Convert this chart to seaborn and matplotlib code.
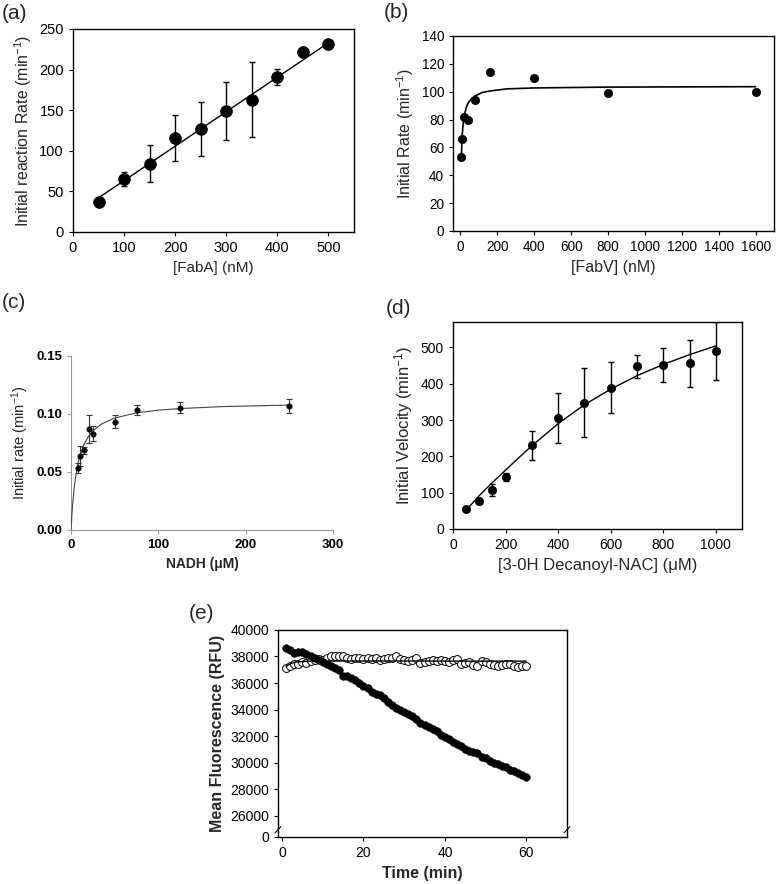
import matplotlib
matplotlib.use("Agg")
import matplotlib.pyplot as plt
import seaborn as sns

# (a) rate vs FabA
faba_nm = [50, 100, 150, 200, 250, 300, 350, 400, 450, 500]
faba_rate = [37, 65, 84, 116, 127, 149, 163, 191, 222, 231]
faba_err = [5, 8.5, 22.5, 28.5, 33.5, 35.5, 46.5, 10, 6, 6]
faba_fit_x = [50, 500]
faba_fit_y = [42, 233]

# (b) rate vs FabV
fabv_nm = [5, 10, 20, 40, 80, 160, 400, 800, 1600]
fabv_rate = [53, 66, 82, 80, 94, 114, 110, 99, 100]
fabv_fit_x = [5, 7, 10, 14, 20, 30, 40, 60, 80, 120, 160, 250, 400, 800, 1600]
fabv_fit_y = [50, 60, 69, 76, 82, 88, 91.5, 95, 97, 99.5, 100.5, 102, 102.7, 103.3, 103.6]

# (c) rate vs NADH
nadh_um = [7.5, 10, 15, 20, 25, 50, 75, 125, 250]
nadh_rate = [0.0535, 0.064, 0.0687, 0.0872, 0.083, 0.0932, 0.1034, 0.1055, 0.1066]
nadh_err = [0.0046, 0.0086, 0.003, 0.012, 0.0065, 0.0055, 0.0043, 0.005, 0.006]
nadh_fit_x = [0, 1, 2, 3.5, 5, 8, 10, 15, 20, 25, 35, 50, 75, 100, 125, 175, 250]
nadh_fit_y = [0, 0.0130, 0.0234, 0.0353, 0.0444, 0.0573, 0.0634, 0.074, 0.0807, 0.0854,
              0.0914, 0.0965, 0.101, 0.1033, 0.1047, 0.1064, 0.1077]

# (d) velocity vs 3-OH decanoyl-NAC
nac_um = [50, 100, 150, 200, 300, 400, 500, 600, 700, 800, 900, 1000]
nac_vel = [54, 76, 107, 143, 230, 305, 348, 389, 448, 452, 456, 489]
nac_err = [4, 7, 16, 12, 41, 69, 95, 70, 31, 47, 65, 80]
nac_fit_x = [50, 100, 150, 200, 250, 300, 400, 500, 600, 700, 800, 900, 1000]
nac_fit_y = [52, 92, 128, 162, 196, 229, 290, 342, 385, 422, 453, 480, 504]

# (e) fluorescence time course
time_min = list(range(1, 61))
fluor_filled = [38650, 38500, 38250, 38300, 38300, 38150, 38050, 37850, 37700, 37550,
                37400, 37250, 37100, 37000, 36550, 36500, 36400, 36200, 36000, 35800,
                35600, 35350, 35200, 35100, 34900, 34600, 34350, 34150, 34000, 33850,
                33700, 33500, 33300, 33000, 32800, 32650, 32550, 32400, 32100, 31950,
                31800, 31550, 31400, 31250, 31050, 30850, 30800, 30750, 30450, 30350,
                30150, 30000, 29900, 29750, 29700, 29450, 29350, 29200, 29050, 28950]
fluor_open = [37150, 37300, 37450, 37400, 37550, 37500, 37650, 37700, 37800, 37750,
              37850, 38000, 38050, 38050, 38000, 37850, 37800, 37900, 37850, 37800,
              37900, 37800, 37900, 37750, 37800, 37850, 37900, 38000, 37800, 37700,
              37650, 37700, 37900, 37500, 37600, 37650, 37700, 37650, 37700, 37650,
              37600, 37700, 37800, 37400, 37500, 37600, 37350, 37300, 37650, 37550,
              37450, 37350, 37300, 37350, 37400, 37450, 37300, 37200, 37300, 37250]
open_fit_x = [1, 2, 3, 4, 5, 8, 15, 30, 45, 60]
open_fit_y = [37250, 37450, 37550, 37600, 37620, 37650, 37660, 37660, 37650, 37650]
e_yticks = [24400, 26000, 28000, 30000, 32000, 34000, 36000, 38000, 40000]
e_yticklabels = ["0", "26000", "28000", "30000", "32000", "34000", "36000", "38000", "40000"]

sns.set_style("ticks")
plt.rcParams["font.family"] = ["Liberation Sans", "DejaVu Sans"]
plt.rcParams["mathtext.fontset"] = "custom"
plt.rcParams["mathtext.rm"] = "Liberation Sans"
plt.rcParams["mathtext.it"] = "Liberation Sans:italic"
plt.rcParams["mathtext.bf"] = "Liberation Sans:bold"

fig = plt.figure(figsize=(7.78, 8.84), dpi=100)


def box_axes(ax, tick_size=10):
    for s in ax.spines.values():
        s.set_color("black")
        s.set_linewidth(1.0)
    ax.tick_params(direction="out", length=3, width=0.8, colors="black",
                   labelsize=tick_size, top=False, right=False)


# ---- (a)
ax = fig.add_axes([0.0938, 0.7376, 0.3612, 0.2296])
ax.errorbar(faba_nm, faba_rate, yerr=faba_err, fmt="none", ecolor="black",
            elinewidth=1, capsize=2.3, capthick=1, zorder=2)
sns.lineplot(x=faba_fit_x, y=faba_fit_y, ax=ax, color="black", lw=1,
             estimator=None, sort=False, zorder=3)
sns.scatterplot(x=faba_nm, y=faba_rate, ax=ax, color="black", s=70,
                edgecolor="black", zorder=4)
ax.set_xlim(0, 550)
ax.set_ylim(0, 250)
ax.set_xticks(range(0, 501, 100))
ax.set_yticks(range(0, 251, 50))
ax.set_xlabel("[FabA] (nM)", fontsize=11)
ax.set_ylabel("Initial reaction Rate (min$^{-1}$)", fontsize=11.5)
box_axes(ax, 10.5)

# ---- (b)
ax = fig.add_axes([0.5823, 0.7387, 0.4126, 0.2206])
sns.lineplot(x=fabv_fit_x, y=fabv_fit_y, ax=ax, color="black", lw=1.2,
             estimator=None, sort=False, zorder=2)
sns.scatterplot(x=fabv_nm, y=fabv_rate, ax=ax, color="black", s=36,
                edgecolor="black", zorder=3)
ax.set_xlim(-40, 1700)
ax.set_ylim(0, 140)
ax.set_xticks(range(0, 1601, 200))
ax.set_yticks(range(0, 141, 20))
ax.set_xlabel("[FabV] (nM)", fontsize=11.5)
ax.set_ylabel("Initial Rate (min$^{-1}$)", fontsize=11.5)
box_axes(ax, 9.8)

# ---- (c)
ax = fig.add_axes([0.0913, 0.4005, 0.3368, 0.1968])
ax.errorbar(nadh_um, nadh_rate, yerr=nadh_err, fmt="none", ecolor="#333333",
            elinewidth=0.8, capsize=2.2, capthick=0.8, zorder=2)
sns.lineplot(x=nadh_fit_x, y=nadh_fit_y, ax=ax, color="#444444", lw=0.8,
             estimator=None, sort=False, zorder=3)
sns.scatterplot(x=nadh_um, y=nadh_rate, ax=ax, color="black", s=16,
                edgecolor="black", zorder=4)
ax.set_xlim(0, 300)
ax.set_ylim(0, 0.15)
ax.set_xticks([0, 100, 200, 300])
ax.set_yticks([0, 0.05, 0.10, 0.15])
ax.set_yticklabels(["0.00", "0.05", "0.10", "0.15"])
ax.set_xlabel("NADH (\u03bcM)", fontsize=10, fontweight="bold")
ax.set_ylabel("Initial rate (min$^{-1}$)", fontsize=10.5)
sns.despine(ax=ax)
for s in ("left", "bottom"):
    ax.spines[s].set_color("#999999")
    ax.spines[s].set_linewidth(0.8)
ax.tick_params(direction="out", length=3, width=0.8, color="#999999",
               labelcolor="black", labelsize=9.5)
for lab in ax.get_xticklabels() + ax.get_yticklabels():
    lab.set_fontweight("bold")

# ---- (d)
ax = fig.add_axes([0.5823, 0.4016, 0.3715, 0.2342])
ax.errorbar(nac_um, nac_vel, yerr=nac_err, fmt="none", ecolor="black",
            elinewidth=1, capsize=2.5, capthick=1, zorder=2)
sns.lineplot(x=nac_fit_x, y=nac_fit_y, ax=ax, color="black", lw=1,
             estimator=None, sort=False, zorder=3)
sns.scatterplot(x=nac_um, y=nac_vel, ax=ax, color="black", s=36,
                edgecolor="black", zorder=4)
ax.set_xlim(0, 1100)
ax.set_ylim(0, 570)
ax.set_xticks(range(0, 1001, 200))
ax.set_yticks(range(0, 501, 100))
ax.set_xlabel("[3-0H Decanoyl-NAC] (\u03bcM)", fontsize=12)
ax.set_ylabel("Initial Velocity (min$^{-1}$)", fontsize=12)
box_axes(ax, 10)

# ---- (e)
ax = fig.add_axes([0.3573, 0.0532, 0.3715, 0.2342])
sns.scatterplot(x=time_min, y=fluor_open, ax=ax, color="white", edgecolor="black",
                linewidth=0.7, s=32, zorder=2)
sns.lineplot(x=open_fit_x, y=open_fit_y, ax=ax, color="black", lw=1,
             estimator=None, sort=False, zorder=3)
sns.scatterplot(x=time_min, y=fluor_filled, ax=ax, color="black", edgecolor="black",
                s=30, zorder=4)
ax.set_xlim(-1, 70)
ax.set_ylim(24400, 40000)
ax.set_xticks([0, 20, 40, 60])
ax.set_yticks(e_yticks)
ax.set_yticklabels(e_yticklabels)
ax.set_xlabel("Time (min)", fontsize=11.5, fontweight="bold")
ax.set_ylabel("Mean Fluorescence (RFU)", fontsize=11.5, fontweight="bold")
box_axes(ax, 10)
for xb in (0, 1):
    ax.plot([xb - 0.01, xb + 0.01], [0.02, 0.05], transform=ax.transAxes,
            color="black", lw=0.8, clip_on=False, zorder=5)

# panel letters
for lab, x, y in [("(a)", 0.002, 0.995), ("(b)", 0.493, 0.997), ("(c)", 0.002, 0.668),
                  ("(d)", 0.496, 0.662), ("(e)", 0.243, 0.317)]:
    fig.text(x, y, lab, fontsize=15, ha="left", va="top")

fig.savefig("out.png", dpi=100)
